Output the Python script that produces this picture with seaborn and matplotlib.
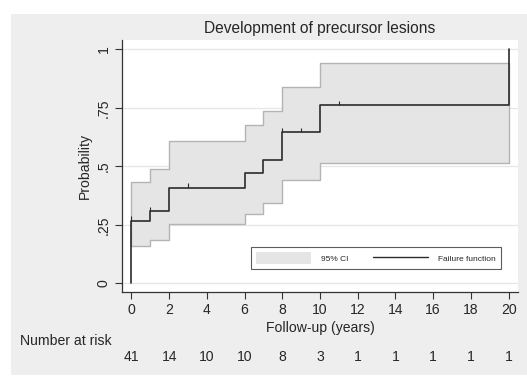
import matplotlib
matplotlib.use("Agg")
import matplotlib.pyplot as plt
import matplotlib.transforms as mtransforms
from matplotlib.patches import Rectangle, Patch
from matplotlib.lines import Line2D
import numpy as np
import pandas as pd
import seaborn as sns

# Kaplan-Meier failure estimate (step function) and its 95% CI
event_times = [0, 1, 2, 6, 7, 8, 10, 20]
failure = [0.268, 0.309, 0.409, 0.470, 0.527, 0.645, 0.762, 1.0]
ci_lower = [0.159, 0.185, 0.252, 0.295, 0.342, 0.441, 0.513, 0.513]
ci_upper = [0.434, 0.487, 0.608, 0.676, 0.738, 0.840, 0.943, 0.943]
censor_times = [0, 1, 3, 8, 9, 11]

# Number-at-risk table
risk_times = [0, 2, 4, 6, 8, 10, 12, 14, 16, 18, 20]
at_risk = [41, 14, 10, 10, 8, 3, 1, 1, 1, 1, 1]

y_ticks = [0, 0.25, 0.5, 0.75, 1]
y_tick_labels = ["0", ".25", ".5", ".75", "1"]

sns.set_theme(style="white")
plt.rcParams["font.family"] = ["Liberation Sans", "DejaVu Sans"]

fig = plt.figure(figsize=(5.27, 3.76), dpi=100, facecolor="white")
# Light-grey graph region behind the plot region
fig.patches.append(Rectangle((11 / 527, 1 / 376), 516 / 527, 361 / 376,
                             transform=fig.transFigure, facecolor="#eeeeee",
                             edgecolor="none", zorder=-10))

ax = fig.add_axes([122 / 527, 84 / 376, 396 / 527, 252 / 376])
ax.set_zorder(1)
ax.set_facecolor("white")

# Confidence band
ax.fill_between(event_times, ci_lower, ci_upper, step="post",
                facecolor="#e5e5e5", edgecolor="#b4b4b4", linewidth=1.0, zorder=2)

# Failure function (starts at 0 and jumps at t = 0)
curve = pd.DataFrame({"time": [0] + event_times,
                      "failure": [0.0] + failure})
sns.lineplot(data=curve, x="time", y="failure", drawstyle="steps-post",
             estimator=None, sort=False,
             color="#2b2b2b", linewidth=1.2, ax=ax, zorder=4)

# Censoring marks
fail_arr = np.array(failure)
ev = np.array(event_times)
censor_vals = np.array([fail_arr[np.searchsorted(ev, t, side="right") - 1]
                        for t in censor_times])
ax.vlines(censor_times, censor_vals, censor_vals + 0.018,
          color="#2b2b2b", linewidth=0.8, zorder=4)

ax.set_xlim(-0.5, 20.5)
ax.set_ylim(-0.037, 1.04)
ax.set_xticks(risk_times)
ax.set_yticks(y_ticks)
ax.set_yticklabels(y_tick_labels, rotation=90, va="center")
ax.grid(axis="y", color="#e6e6e6", linewidth=0.9, zorder=1)
ax.set_axisbelow(True)

for s in ["top", "right"]:
    ax.spines[s].set_visible(False)
for s in ["left", "bottom"]:
    ax.spines[s].set_color("#333333")
    ax.spines[s].set_linewidth(0.9)

ax.tick_params(axis="both", which="major", direction="out", length=5, width=0.8,
               color="#333333", labelsize=10.1, pad=3, left=True, bottom=True)
ax.set_xlabel("Follow-up (years)", fontsize=10.1, labelpad=3)
ax.set_ylabel("Probability", fontsize=10.1, labelpad=3.5)
ax.set_title("Development of precursor lesions", fontsize=11.2, pad=5)

# Legend
handles = [Patch(facecolor="#e5e5e5", edgecolor="none"),
           Line2D([0], [0], color="#2b2b2b", linewidth=1.0)]
leg = ax.legend(handles, ["95% CI", "Failure function"], ncol=2,
                loc="lower right", bbox_to_anchor=(0.957, 0.091), fontsize=6.0,
                frameon=True, fancybox=False, edgecolor="#333333",
                handlelength=6.6, handleheight=1.7, columnspacing=2.9,
                handletextpad=1.2, borderpad=0.65, borderaxespad=0)
leg.get_frame().set_linewidth(0.8)

# Number-at-risk row
fig.text(20 / 527, 1 - 341 / 376, "Number at risk", fontsize=10.1,
         ha="left", va="center")
risk_trans = mtransforms.blended_transform_factory(ax.transData, fig.transFigure)
for t, n in zip(risk_times, at_risk):
    ax.text(t, 1 - 357 / 376, str(n), transform=risk_trans, clip_on=False,
            fontsize=10.1, ha="center", va="center")

fig.savefig("out.png", dpi=100, facecolor="white")
